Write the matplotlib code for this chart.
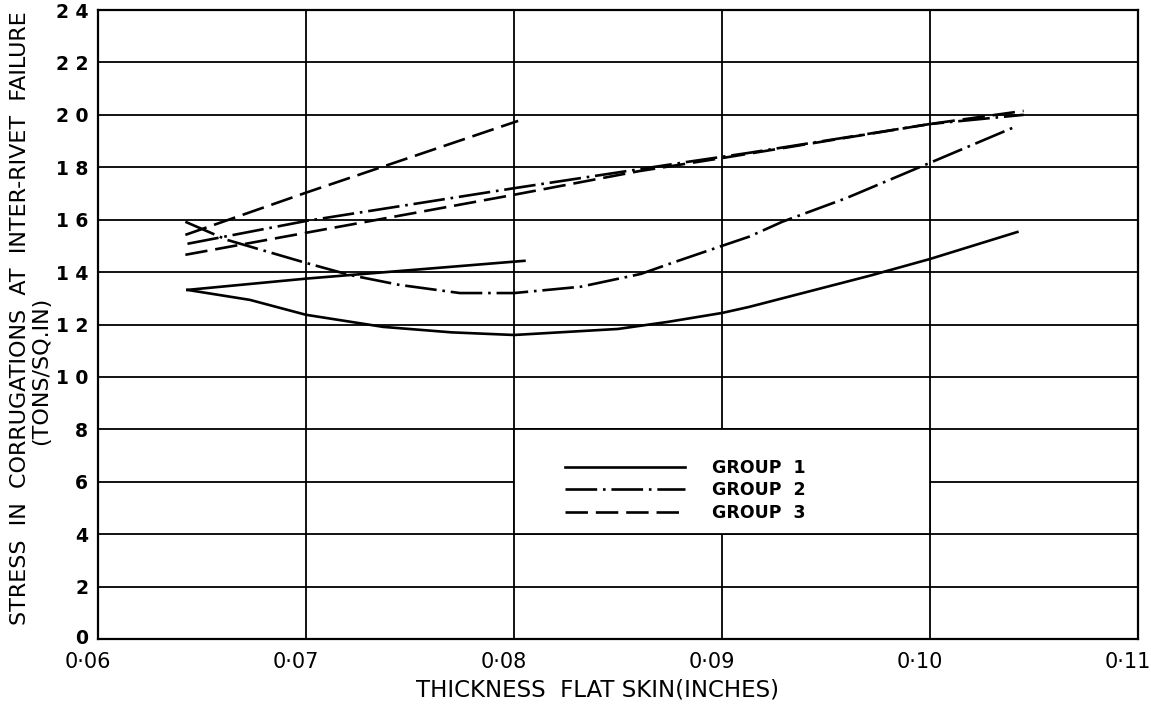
import numpy as np
import matplotlib
matplotlib.use("Agg")
import matplotlib.pyplot as plt
from matplotlib.patches import Rectangle
from matplotlib.lines import Line2D
import matplotlib.transforms as mtransforms

# Group 1 (solid) - two curves
g1_upper_x = [0.0643, 0.0700, 0.0805]
g1_upper_y = [13.32, 13.75, 14.43]
g1_lower_x = [0.0643, 0.0673, 0.0700, 0.0737, 0.0770, 0.0800, 0.0850, 0.0874,
              0.0900, 0.0913, 0.0971, 0.1000, 0.1042]
g1_lower_y = [13.32, 12.94, 12.37, 11.91, 11.70, 11.60, 11.83, 12.10,
              12.44, 12.67, 13.86, 14.50, 15.53]

# Group 2 (dash-dot)
g2_upper_x = [0.0643, 0.0700, 0.0800, 0.0883, 0.0913, 0.1000, 0.1045]
g2_upper_y = [15.08, 15.95, 17.20, 18.20, 18.55, 19.65, 20.00]
g2_lower_x = [0.0642, 0.0662, 0.0700, 0.0721, 0.0745, 0.0774, 0.0800, 0.0832,
              0.0861, 0.0876, 0.0900, 0.0913, 0.0929, 0.0960, 0.1000, 0.1042]
g2_lower_y = [15.92, 15.23, 14.35, 13.89, 13.51, 13.20, 13.20, 13.44,
              13.93, 14.35, 15.00, 15.35, 15.92, 16.83, 18.17, 19.58]

# Group 3 (dashed)
g3_upper_x = [0.0642, 0.0700, 0.0802]
g3_upper_y = [15.42, 17.03, 19.77]
g3_lower_x = [0.0642, 0.0700, 0.0800, 0.0860, 0.0900, 0.1000, 0.1045]
g3_lower_y = [14.66, 15.50, 16.95, 17.85, 18.35, 19.65, 20.15]

x_ticks = [0.06, 0.07, 0.08, 0.09, 0.10, 0.11]
x_tick_labels = ["0·06", "0·07", "0·08", "0·09", "0·10", "0·11"]
y_ticks = list(range(0, 25, 2))
y_tick_labels = ["0", "2", "4", "6", "8", "1 0", "1 2", "1 4", "1 6", "1 8",
                 "2 0", "2 2", "2 4"]
group_labels = ["GROUP  1", "GROUP  2", "GROUP  3"]

LW = 1.9
DASHED = (8.5, 3)
DASHDOT = (12, 2.2, 1, 2.2)

fig = plt.figure(figsize=(11.51, 7.06), dpi=100)
ax = fig.add_axes([98 / 1151, 67 / 706, 1040 / 1151, 629 / 706])

ax.set_xlim(0.06, 0.11)
ax.set_ylim(0, 24)
ax.set_xticks(x_ticks)
ax.set_xticklabels(x_tick_labels, fontsize=15)
ax.set_yticks(y_ticks)
ax.set_yticklabels(y_tick_labels, fontsize=13.5, fontweight="bold")
ax.tick_params(length=0, pad=7)
ax.tick_params(axis="x", pad=9)

# shift x labels a little to the left of their grid line
offset = mtransforms.ScaledTranslation(-10 / 100, 0, fig.dpi_scale_trans)
for lab in ax.get_xticklabels():
    lab.set_transform(lab.get_transform() + offset)
# the bottom y label sits slightly above its line
yoff = mtransforms.ScaledTranslation(0, 3 / 100, fig.dpi_scale_trans)
ax.get_yticklabels()[0].set_transform(ax.get_yticklabels()[0].get_transform() + yoff)

ax.set_axisbelow(True)
ax.grid(True, color="black", linewidth=1.3)
for sp in ax.spines.values():
    sp.set_linewidth(1.6)

# blank panel behind the key
ax.add_patch(Rectangle((0.08, 4), 0.02, 4, facecolor="white",
                       edgecolor="black", linewidth=1.3, zorder=1))

ax.plot(g1_upper_x, g1_upper_y, color="black", lw=LW, zorder=3)
ax.plot(g1_lower_x, g1_lower_y, color="black", lw=LW, zorder=3)
ax.plot(g2_upper_x, g2_upper_y, color="black", lw=LW, dashes=DASHDOT, zorder=3)
ax.plot(g2_lower_x, g2_lower_y, color="black", lw=LW, dashes=DASHDOT, zorder=3)
ax.plot(g3_upper_x, g3_upper_y, color="black", lw=LW, dashes=DASHED, zorder=3)
ax.plot(g3_lower_x, g3_lower_y, color="black", lw=LW, dashes=DASHED, zorder=3)

handles = [Line2D([], [], color="black", lw=LW),
           Line2D([], [], color="black", lw=LW, dashes=DASHDOT),
           Line2D([], [], color="black", lw=LW, dashes=DASHED)]
leg = ax.legend(handles, group_labels, loc="upper left",
                bbox_to_anchor=(0.441, 0.30), frameon=False, borderpad=0,
                handlelength=6.9, handletextpad=1.55, labelspacing=0.25,
                prop={"size": 12.5, "weight": "bold"})
leg.set_zorder(5)

fig.text(20 / 1151, 1 - 318 / 706,
         "STRESS  IN  CORRUGATIONS  AT  INTER-RIVET  FAILURE",
         rotation=90, ha="center", va="center", fontsize=16)
fig.text(41 / 1151, 1 - 371 / 706, "(TONS/SQ.IN)",
         rotation=90, ha="center", va="center", fontsize=16)
fig.text(598 / 1151, 1 - 690 / 706, "THICKNESS  FLAT SKIN(INCHES)",
         ha="center", va="center", fontsize=16.5)

fig.savefig("out.png", dpi=100)
